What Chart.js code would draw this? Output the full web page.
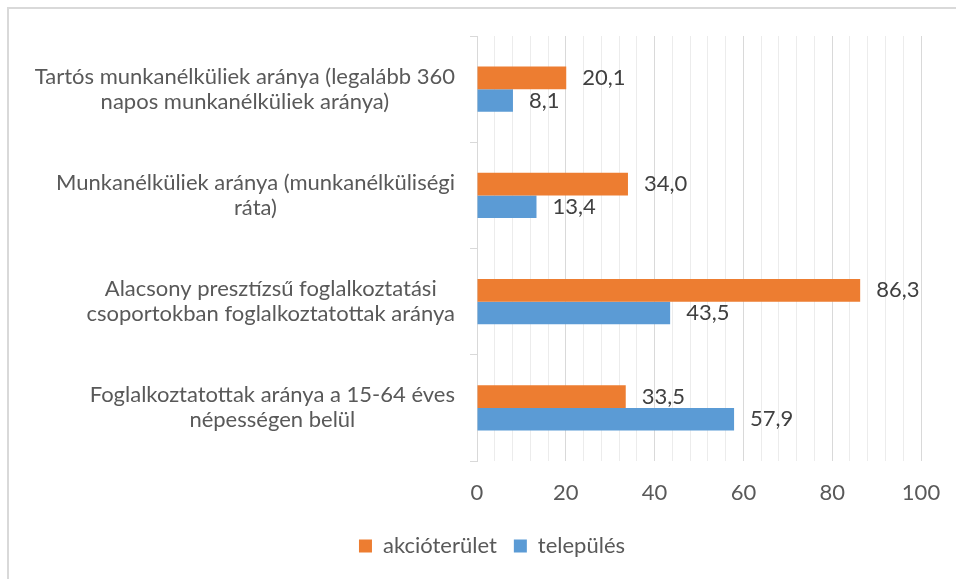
<!DOCTYPE html>
<html>
<head>
<meta charset="utf-8">
<script src="https://cdn.jsdelivr.net/npm/chart.js@4/dist/chart.umd.min.js"></script>
<style>
  html, body { margin: 0; padding: 0; background: #ffffff; overflow: hidden; width: 956px; height: 579px; }
  #frame { position: absolute; left: 7px; top: 7px; width: 2000px; height: 2000px; border-left: 2px solid #d9d9d9; border-top: 2px solid #d9d9d9; }
  #box { position: absolute; left: 0; top: 0; width: 984px; height: 579px; }
</style>
</head>
<body>
<div id="frame"></div>
<div id="box"><canvas id="c"></canvas></div>
<script>
const categories = [
  ["Tartós munkanélküliek aránya (legalább 360", "napos munkanélküliek aránya)"],
  ["Munkanélküliek aránya (munkanélküliségi", "ráta)"],
  ["Alacsony presztízsű foglalkoztatási", "csoportokban foglalkoztatottak aránya"],
  ["Foglalkoztatottak aránya a 15-64 éves", "népességen belül"]
];
const seriesNames = ["akcióterület", "település"];
const akcioterulet = [20.1, 34.0, 86.3, 33.5];
const telepules = [8.1, 13.4, 43.5, 57.9];
const xTicks = [0, 20, 40, 60, 80, 100];

const FONT = "Lato, 'Open Sans', sans-serif";
const FS = 22;
const TEXT = "#595959";

const catLabelPlugin = {
  id: 'catLabels',
  afterDraw(chart) {
    const ctx = chart.ctx;
    const ys = chart.scales.y;
    const right = ys.right - 22;
    const lh = 25;
    ctx.save();
    ctx.font = FS + "px " + FONT;
    ctx.fillStyle = TEXT;
    ctx.textBaseline = 'middle';
    ctx.textAlign = 'center';
    categories.forEach((lines, i) => {
      const cy = ys.getPixelForTick(i);
      const maxW = Math.max(...lines.map(l => ctx.measureText(l).width));
      const cx = right - maxW / 2;
      const y0 = cy - (lines.length - 1) * lh / 2;
      lines.forEach((l, j) => ctx.fillText(l, cx, y0 + j * lh));
    });
    ctx.restore();
  }
};

const valueLabelPlugin = {
  id: 'valueLabels',
  afterDatasetsDraw(chart) {
    const ctx = chart.ctx;
    ctx.save();
    ctx.font = FS + "px " + FONT;
    ctx.fillStyle = "#404040";
    ctx.textBaseline = 'middle';
    ctx.textAlign = 'left';
    chart.data.datasets.forEach((ds, di) => {
      const meta = chart.getDatasetMeta(di);
      meta.data.forEach((el, i) => {
        const v = ds.data[i];
        ctx.fillText(v.toFixed(1).replace('.', ','), el.x + 16, el.y);
      });
    });
    ctx.restore();
  }
};

new Chart(document.getElementById('c'), {
  type: 'bar',
  data: {
    labels: categories.map(c => c.join(' ')),
    datasets: [
      { label: seriesNames[0], data: akcioterulet, backgroundColor: '#ED7D31', borderWidth: 0 },
      { label: seriesNames[1], data: telepules, backgroundColor: '#5B9BD5', borderWidth: 0 }
    ]
  },
  options: {
    indexAxis: 'y',
    responsive: true,
    maintainAspectRatio: false,
    animation: false,
    events: [],
    layout: { padding: { left: 63, top: 36, right: 63, bottom: 12 } },
    datasets: { bar: { categoryPercentage: 0.425, barPercentage: 1.0 } },
    scales: {
      x: {
        type: 'linear',
        min: 0, max: 100,
        afterBuildTicks(scale) {
          const t = [];
          for (let v = 0; v <= 100; v += 4) t.push({ value: v });
          scale.ticks = t;
        },
        afterFit(scale) { scale.height = 57; },
        grid: {
          drawTicks: false,
          color: (c) => (c.tick && xTicks.includes(c.tick.value)) ? '#d9d9d9' : '#ececec',
          lineWidth: 1
        },
        border: { display: false },
        ticks: {
          autoSkip: false,
          maxRotation: 0,
          padding: 19,
          color: TEXT,
          font: { family: FONT, size: FS },
          callback: (v) => xTicks.includes(v) ? String(v) : ''
        }
      },
      y: {
        afterFit(scale) { scale.width = 414; },
        grid: { drawOnChartArea: false, drawTicks: true, tickLength: 7, color: '#d9d9d9', offset: true },
        border: { display: true, color: '#d9d9d9', width: 1 },
        ticks: { display: false }
      }
    },
    plugins: {
      legend: {
        position: 'bottom',
        labels: {
          boxWidth: 13, boxHeight: 13, padding: 17,
          color: TEXT,
          font: { family: FONT, size: FS }
        }
      },
      tooltip: { enabled: false }
    }
  },
  plugins: [catLabelPlugin, valueLabelPlugin]
});
</script>
</body>
</html>
